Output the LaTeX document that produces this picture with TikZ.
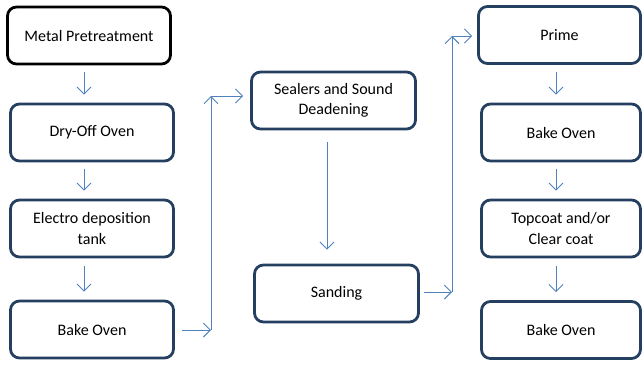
\documentclass[tikz,border=0pt]{standalone}
\usepackage{fontspec}
\setmainfont{Carlito}
\usetikzlibrary{arrows.meta}
\definecolor{boxnavy}{HTML}{243F60}
\definecolor{arrowblue}{HTML}{4F81BD}
\begin{document}
\begin{tikzpicture}[x=1pt,y=-1pt,
  procbox/.style={draw=boxnavy,line width=2.8pt,rounded corners=9pt,fill=white,
    minimum height=57pt,align=center,font=\fontsize{16}{20.5}\selectfont,inner sep=0pt},
  flow/.style={draw=arrowblue,line width=0.9pt,-{Straight Barb[length=7pt,width=14pt,line width=0.9pt]}}]
\useasboundingbox (0,0) rectangle (644,365);
\node[procbox,draw=black,minimum width=163pt] (mp) at (89,35.5) {Metal Pretreatment};
\node[procbox,minimum width=163pt] (dry) at (92,132.5) {Dry-Off Oven};
\node[procbox,minimum width=163pt] (ed) at (92,228.5) {Electro deposition\\tank};
\node[procbox,minimum width=163pt] (bk1) at (92,329.5) {Bake Oven};
\node[procbox,minimum width=164pt] (seal) at (333.5,100.5) {Sealers and Sound\\Deadening};
\node[procbox,minimum width=164pt] (sand) at (336.5,293.5) {Sanding};
\node[procbox,minimum width=162pt] (prime) at (559.5,35) {Prime};
\node[procbox,minimum width=159pt] (bk2) at (561,132.5) {Bake Oven};
\node[procbox,minimum width=159pt] (top) at (561,228.5) {Topcoat and/or\\Clear coat};
\node[procbox,minimum width=159pt] (bk3) at (561,330) {Bake Oven};
\coordinate (c1) at (211,330);
\coordinate (c2) at (211,96);
\coordinate (c3) at (452,292);
\coordinate (c4) at (452,36);
\draw[flow] ([yshift=-7pt]mp.south -| 84,0) -- ([yshift=8pt]dry.north -| 84,0);
\draw[flow] ([yshift=-7pt]dry.south -| 84,0) -- ([yshift=8pt]ed.north -| 84,0);
\draw[flow] ([yshift=-8pt]ed.south -| 84,0) -- ([yshift=8pt]bk1.north -| 84,0);
\draw[flow] ([xshift=7pt]bk1.east |- c1) -- (c1);
\draw[flow] (c1) -- (c2);
\draw[flow] (c2) -- ([xshift=-7pt]seal.west |- c2);
\draw[flow] ([yshift=-12pt]seal.south -| 327,0) -- ([yshift=14pt]sand.north -| 327,0);
\draw[flow] ([xshift=4pt]sand.east |- c3) -- (c3);
\draw[flow] (c3) -- (c4);
\draw[flow] (c4) -- ([xshift=-5pt]prime.west |- c4);
\draw[flow] ([yshift=-7pt]prime.south -| 556,0) -- ([yshift=8pt]bk2.north -| 556,0);
\draw[flow] ([yshift=-7pt]bk2.south -| 556,0) -- ([yshift=8pt]top.north -| 556,0);
\draw[flow] ([yshift=-8pt]top.south -| 556,0) -- ([yshift=8pt]bk3.north -| 556,0);
\end{tikzpicture}
\end{document}
